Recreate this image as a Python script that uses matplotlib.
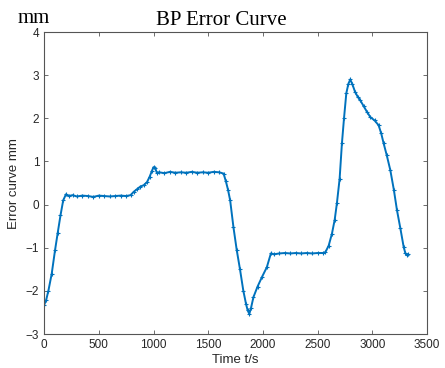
# BP error curve, MATLAB-style line plot.

import matplotlib
matplotlib.use('Agg')
import matplotlib.pyplot as plt

time_s = [0, 20, 40, 70, 100, 125, 150, 175, 200, 225, 260, 300, 350, 400, 450,
          500, 550, 600, 650, 700, 750, 790, 820, 850, 880, 910, 940, 965, 985,
          1000, 1015, 1030, 1050, 1100, 1150, 1200, 1250, 1300, 1350, 1400, 1450,
          1500, 1550, 1600, 1640, 1660, 1680, 1700, 1730, 1760, 1790, 1820, 1845,
          1860, 1875, 1890, 1913, 1950, 1990, 2035, 2072, 2100, 2150, 2200, 2250,
          2300, 2350, 2400, 2450, 2500, 2550, 2570, 2600, 2630, 2655, 2675, 2700,
          2721, 2740, 2761, 2780, 2797, 2815, 2840, 2865, 2888, 2920, 2950, 2980,
          3020, 3056, 3080, 3102, 3130, 3163, 3195, 3224, 3255, 3285, 3300, 3315,
          3325]
error_mm = [-2.33, -2.2, -1.99, -1.6, -1.06, -0.65, -0.25, 0.1, 0.24, 0.2, 0.22, 0.19, 0.21, 0.2, 0.18,
            0.21, 0.2, 0.19, 0.2, 0.21, 0.2, 0.22, 0.3, 0.36, 0.42, 0.45, 0.52, 0.65, 0.78,
            0.87, 0.85, 0.74, 0.75, 0.73, 0.76, 0.74, 0.75, 0.74, 0.76, 0.74, 0.75,
            0.74, 0.76, 0.75, 0.72, 0.55, 0.35, 0.1, -0.52, -1.05, -1.5, -1.99, -2.3,
            -2.45, -2.53, -2.4, -2.14, -1.9, -1.68, -1.45, -1.13, -1.15, -1.13, -1.12, -1.13,
            -1.12, -1.13, -1.12, -1.13, -1.12, -1.12, -1.1, -0.95, -0.67, -0.35, 0.03, 0.6,
            1.42, 2.0, 2.58, 2.8, 2.9, 2.8, 2.62, 2.5, 2.42, 2.28, 2.15, 2.03,
            1.95, 1.84, 1.65, 1.42, 1.15, 0.8, 0.35, -0.13, -0.55, -0.98, -1.12, -1.17,
            -1.15]

xticks = [0, 500, 1000, 1500, 2000, 2500, 3000, 3500]
yticks = [-3, -2, -1, 0, 1, 2, 3, 4]

plt.rcParams['font.family'] = ['Liberation Sans', 'DejaVu Sans']

fig = plt.figure(figsize=(4.45, 3.68), dpi=100)
ax = fig.add_axes([0.099, 0.092, 0.861, 0.821])

ax.plot(time_s, error_mm, '-+', color='#0072BD', linewidth=1.4,
        markersize=3, markeredgewidth=0.8)

ax.set_xlim(0, 3500)
ax.set_ylim(-3, 4)
ax.set_xticks(xticks)
ax.set_yticks(yticks)

grey = '#262626'
for s in ax.spines.values():
    s.set_color('#555555')
    s.set_linewidth(0.8)
ax.tick_params(direction='in', top=True, right=True, length=3, width=0.6,
               colors='#555555', labelcolor=grey, labelsize=8.5)

ax.set_xlabel('Time t/s', fontsize=9.5, color=grey, labelpad=2)
ax.set_ylabel('Error curve mm', fontsize=9.5, color=grey, labelpad=4)
fig.text(0.497, 0.932, 'BP Error Curve', fontsize=15, ha='center', va='baseline',
         family=['Liberation Serif'])
fig.text(0.04, 0.9375, 'mm', fontsize=15, va='baseline', family=['Liberation Serif'])

fig.savefig('out.png', dpi=100)
